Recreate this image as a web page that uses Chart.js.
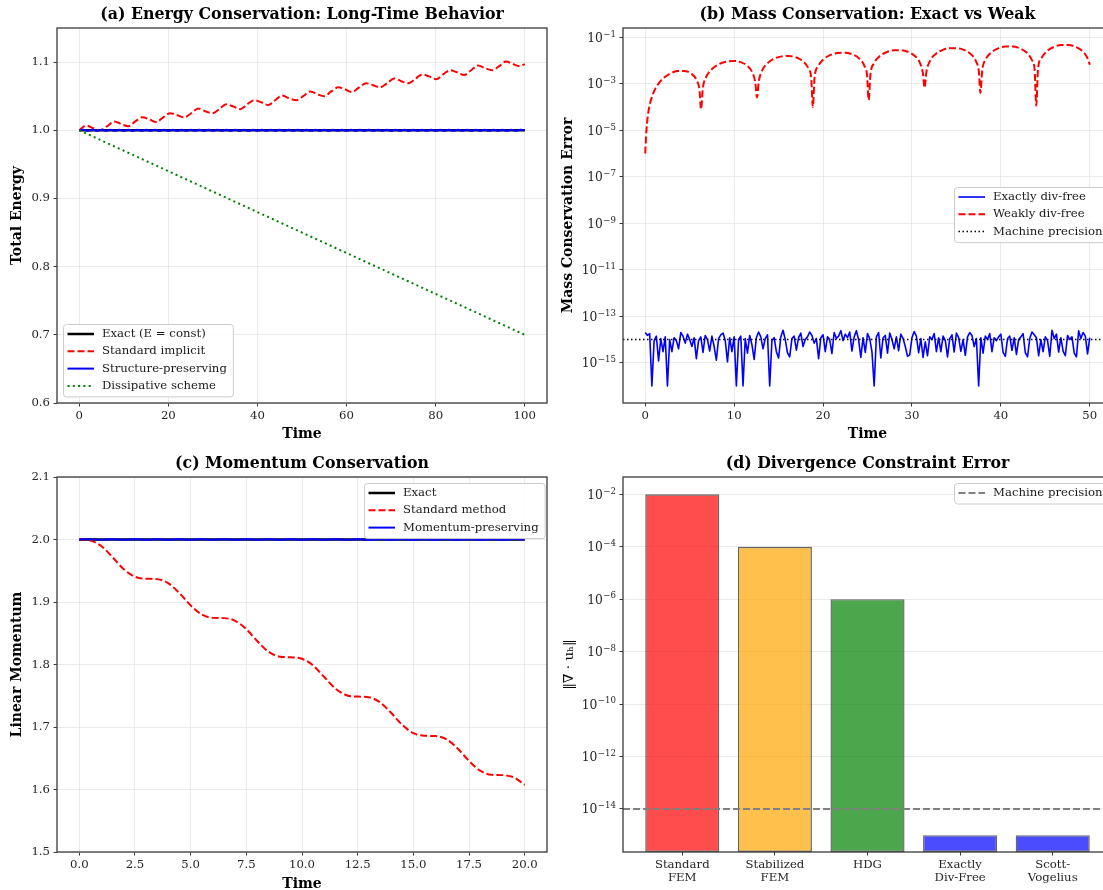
<!DOCTYPE html>
<html>
<head>
<meta charset="utf-8">
<script src="https://cdn.jsdelivr.net/npm/chart.js@4.4.0/dist/chart.umd.min.js"></script>
<style>
  html, body { margin: 0; padding: 0; background: #fff; }
  body { width: 1103px; height: 890px; overflow: hidden; position: relative; }
  .panel { position: absolute; }
  canvas { display: block; }
</style>
</head>
<body>
<div class="panel" style="left:0;top:0"><canvas id="chartA" width="551" height="445"></canvas></div>
<div class="panel" style="left:551px;top:0"><canvas id="chartB" width="565" height="445"></canvas></div>
<div class="panel" style="left:0;top:445px"><canvas id="chartC" width="551" height="450"></canvas></div>
<div class="panel" style="left:551px;top:445px"><canvas id="chartD" width="565" height="450"></canvas></div>
<script>
// ---- (a) energy conservation ----
const exactTimeA = [0, 100];
const exactEnergy = [1.0, 1.0];
const implicitTime = [0, 1.57, 3.14, 4.71, 6.28, 7.85, 9.42, 11.0, 12.57, 14.14, 15.71, 17.28, 18.85, 20.42, 21.99, 23.56,
  25.13, 26.7, 28.27, 29.85, 31.42, 32.99, 34.56, 36.13, 37.7, 39.27, 40.84, 42.41, 43.98, 45.55, 47.12, 48.69,
  50.27, 51.84, 53.41, 54.98, 56.55, 58.12, 59.69, 61.26, 62.83, 64.4, 65.97, 67.54, 69.12, 70.69, 72.26, 73.83,
  75.4, 76.97, 78.54, 80.11, 81.68, 83.25, 84.82, 86.39, 87.96, 89.54, 91.11, 92.68, 94.25, 95.82, 97.39, 98.96, 100];
const implicitEnergy = [1.000, 1.007, 1.003, 1.000, 1.006, 1.013, 1.009, 1.006, 1.013, 1.019, 1.016, 1.012, 1.019, 1.025, 1.022, 1.019,
  1.025, 1.032, 1.028, 1.025, 1.031, 1.038, 1.035, 1.031, 1.038, 1.044, 1.041, 1.037, 1.044, 1.051, 1.047, 1.044,
  1.050, 1.057, 1.053, 1.050, 1.057, 1.063, 1.060, 1.056, 1.063, 1.069, 1.066, 1.063, 1.069, 1.076, 1.072, 1.069,
  1.075, 1.082, 1.079, 1.075, 1.082, 1.088, 1.085, 1.081, 1.088, 1.095, 1.091, 1.088, 1.094, 1.101, 1.097, 1.094, 1.097];
const timeA = [0, 1, 2, 3, 4, 5, 6, 7, 8, 9, 10, 11, 12, 13, 14, 15, 16, 17, 18, 19, 20, 21, 22, 23, 24, 25, 26, 27, 28, 29,
  30, 31, 32, 33, 34, 35, 36, 37, 38, 39, 40, 41, 42, 43, 44, 45, 46, 47, 48, 49, 50, 51, 52, 53, 54, 55, 56, 57, 58, 59,
  60, 61, 62, 63, 64, 65, 66, 67, 68, 69, 70, 71, 72, 73, 74, 75, 76, 77, 78, 79, 80, 81, 82, 83, 84, 85, 86, 87, 88, 89,
  90, 91, 92, 93, 94, 95, 96, 97, 98, 99, 100];
const structEnergy = [1.0,
  1.0007, 0.9993, 1.0007, 0.9993, 1.0007, 0.9993, 1.0007, 0.9993, 1.0007, 0.9993,
  1.0007, 0.9993, 1.0007, 0.9993, 1.0007, 0.9993, 1.0007, 0.9993, 1.0007, 0.9993,
  1.0007, 0.9993, 1.0007, 0.9993, 1.0007, 0.9993, 1.0007, 0.9993, 1.0007, 0.9993,
  1.0007, 0.9993, 1.0007, 0.9993, 1.0007, 0.9993, 1.0007, 0.9993, 1.0007, 0.9993,
  1.0007, 0.9993, 1.0007, 0.9993, 1.0007, 0.9993, 1.0007, 0.9993, 1.0007, 0.9993,
  1.0007, 0.9993, 1.0007, 0.9993, 1.0007, 0.9993, 1.0007, 0.9993, 1.0007, 0.9993,
  1.0007, 0.9993, 1.0007, 0.9993, 1.0007, 0.9993, 1.0007, 0.9993, 1.0007, 0.9993,
  1.0007, 0.9993, 1.0007, 0.9993, 1.0007, 0.9993, 1.0007, 0.9993, 1.0007, 0.9993,
  1.0007, 0.9993, 1.0007, 0.9993, 1.0007, 0.9993, 1.0007, 0.9993, 1.0007, 0.9993,
  1.0007, 0.9993, 1.0007, 0.9993, 1.0007, 0.9993, 1.0007, 0.9993, 1.0007, 1.0];
const dissipTime = [0, 100];
const dissipEnergy = [1.0, 0.7];
const ticksAX = [0, 20, 40, 60, 80, 100];
const ticksAY = [0.6, 0.7, 0.8, 0.9, 1.0, 1.1];

// ---- (b) mass conservation ----
const weakTime = [0, 0.1, 0.2, 0.4, 0.7, 1.0, 1.5, 2.0, 2.8, 3.6, 4.4, 5.2, 5.8, 6.1, 6.28,
  6.48, 6.88, 7.48, 8.28, 9.08, 9.88, 10.68, 11.48, 12.08, 12.38, 12.57,
  12.77, 13.17, 13.77, 14.57, 15.37, 16.17, 16.97, 17.77, 18.37, 18.67, 18.85,
  19.05, 19.45, 20.05, 20.85, 21.65, 22.45, 23.25, 24.05, 24.65, 24.95, 25.13,
  25.33, 25.73, 26.33, 27.13, 27.93, 28.73, 29.53, 30.33, 30.93, 31.23, 31.42,
  31.62, 32.02, 32.62, 33.42, 34.22, 35.02, 35.82, 36.62, 37.22, 37.52, 37.70,
  37.90, 38.30, 38.90, 39.70, 40.50, 41.30, 42.10, 42.90, 43.50, 43.80, 43.98,
  44.18, 44.58, 45.18, 45.98, 46.78, 47.58, 48.38, 49.18, 49.78, 50.0];
const weakError = [1e-6, 6e-6, 2e-5, 7.9e-5, 2.4e-4, 4.8e-4, 1.02e-3, 1.68e-3, 2.76e-3, 3.51e-3, 3.56e-3, 2.68e-3, 1.39e-3, 5.6e-4, 8e-5,
  6.5e-4, 2.03e-3, 4.22e-3, 6.97e-3, 8.95e-3, 9.62e-3, 8.64e-3, 5.92e-3, 2.89e-3, 1.13e-3, 2.6e-4,
  1.27e-3, 3.89e-3, 7.77e-3, 1.23e-2, 1.51e-2, 1.57e-2, 1.37e-2, 9.16e-3, 4.39e-3, 1.71e-3, 1e-4,
  1.9e-3, 5.75e-3, 1.13e-2, 1.75e-2, 2.13e-2, 2.19e-2, 1.88e-2, 1.24e-2, 5.9e-3, 2.28e-3, 2e-4,
  2.53e-3, 7.6e-3, 1.49e-2, 2.28e-2, 2.75e-2, 2.8e-2, 2.39e-2, 1.56e-2, 7.4e-3, 2.86e-3, 6.7e-4,
  3.16e-3, 9.46e-3, 1.84e-2, 2.81e-2, 3.37e-2, 3.41e-2, 2.9e-2, 1.89e-2, 8.9e-3, 3.43e-3, 4e-4,
  3.78e-3, 1.13e-2, 2.2e-2, 3.34e-2, 3.99e-2, 4.02e-2, 3.4e-2, 2.21e-2, 1.04e-2, 4.01e-3, 1.15e-4,
  4.41e-3, 1.32e-2, 2.55e-2, 3.87e-2, 4.61e-2, 4.63e-2, 3.91e-2, 2.54e-2, 1.19e-2, 6.6e-3];
const exactTimeB = [0, 0.25, 0.5, 0.75, 1, 1.25, 1.5, 1.75, 2, 2.25, 2.5, 2.75, 3, 3.25, 3.5, 3.75, 4, 4.25, 4.5, 4.75,
  5, 5.25, 5.5, 5.75, 6, 6.25, 6.5, 6.75, 7, 7.25, 7.5, 7.75, 8, 8.25, 8.5, 8.75, 9, 9.25, 9.5, 9.75,
  10, 10.25, 10.5, 10.75, 11, 11.25, 11.5, 11.75, 12, 12.25, 12.5, 12.75, 13, 13.25, 13.5, 13.75, 14, 14.25, 14.5, 14.75,
  15, 15.25, 15.5, 15.75, 16, 16.25, 16.5, 16.75, 17, 17.25, 17.5, 17.75, 18, 18.25, 18.5, 18.75, 19, 19.25, 19.5, 19.75,
  20, 20.25, 20.5, 20.75, 21, 21.25, 21.5, 21.75, 22, 22.25, 22.5, 22.75, 23, 23.25, 23.5, 23.75, 24, 24.25, 24.5, 24.75,
  25, 25.25, 25.5, 25.75, 26, 26.25, 26.5, 26.75, 27, 27.25, 27.5, 27.75, 28, 28.25, 28.5, 28.75, 29, 29.25, 29.5, 29.75,
  30, 30.25, 30.5, 30.75, 31, 31.25, 31.5, 31.75, 32, 32.25, 32.5, 32.75, 33, 33.25, 33.5, 33.75, 34, 34.25, 34.5, 34.75,
  35, 35.25, 35.5, 35.75, 36, 36.25, 36.5, 36.75, 37, 37.25, 37.5, 37.75, 38, 38.25, 38.5, 38.75, 39, 39.25, 39.5, 39.75,
  40, 40.25, 40.5, 40.75, 41, 41.25, 41.5, 41.75, 42, 42.25, 42.5, 42.75, 43, 43.25, 43.5, 43.75, 44, 44.25, 44.5, 44.75,
  45, 45.25, 45.5, 45.75, 46, 46.25, 46.5, 46.75, 47, 47.25, 47.5, 47.75, 48, 48.25, 48.5, 48.75, 49, 49.25, 49.5, 49.75, 50];
const exactError = [20e-15, 15e-15, 18e-15, 1e-16, 9e-15, 14e-15, 1.2e-15, 11e-15, 3e-15, 13e-15,
  1e-16, 10e-15, 3e-15, 12e-15, 9e-15, 4e-15, 20e-15, 14e-15, 7e-15, 17e-15,
  10e-15, 5e-15, 12e-15, 1.5e-15, 9e-15, 13e-15, 2.8e-15, 15e-15, 10e-15, 3.2e-15,
  14e-15, 5e-15, 1.3e-15, 11e-15, 16e-15, 19e-15, 9e-15, 1.1e-15, 12e-15, 3e-15,
  13e-15, 1e-16, 10e-15, 14e-15, 1e-16, 11e-15, 2.6e-15, 15e-15, 6e-15, 1.4e-15,
  12e-15, 21e-15, 13e-15, 4e-15, 11e-15, 16e-15, 1e-16, 9e-15, 12e-15, 3e-15,
  1.6e-15, 13e-15, 25e-15, 10e-15, 2.7e-15, 1.8e-15, 11e-15, 14e-15, 3.5e-15, 12e-15,
  19e-15, 5e-15, 10e-15, 13e-15, 21e-15, 15e-15, 7e-15, 11e-15, 1.5e-15, 12e-15,
  16e-15, 3e-15, 13e-15, 10e-15, 2.5e-15, 20e-15, 11e-15, 14e-15, 24e-15, 9e-15,
  17e-15, 12e-15, 21e-15, 3.2e-15, 13e-15, 24e-15, 10e-15, 1.7e-15, 12e-15, 2.8e-15,
  18e-15, 11e-15, 3e-15, 1e-16, 13e-15, 20e-15, 1.6e-15, 12e-15, 15e-15, 2.6e-15,
  19e-15, 10e-15, 4e-15, 13e-15, 3.3e-15, 17e-15, 11e-15, 5e-15, 1.9e-15, 2.2e-15,
  12e-15, 22e-15, 14e-15, 2.7e-15, 11e-15, 1.7e-15, 8e-15, 2e-15, 13e-15, 10e-15,
  18e-15, 3e-15, 12e-15, 3e-15, 14e-15, 9e-15, 1.8e-15, 11e-15, 16e-15, 2.9e-15,
  19e-15, 12e-15, 3.1e-15, 10e-15, 2.1e-15, 13e-15, 20e-15, 15e-15, 5e-15, 11e-15,
  1e-16, 12e-15, 2.6e-15, 14e-15, 10e-15, 18e-15, 3e-15, 12e-15, 9e-15, 13e-15,
  17e-15, 2.8e-15, 1.9e-15, 11e-15, 14e-15, 3.4e-15, 12e-15, 2.3e-15, 10e-15, 13e-15,
  18e-15, 2.7e-15, 1.8e-15, 11e-15, 21e-15, 16e-15, 12e-15, 2e-15, 10e-15, 3e-15,
  13e-15, 9e-15, 1.9e-15, 25e-15, 11e-15, 17e-15, 2.9e-15, 12e-15, 3.2e-15, 2e-15,
  15e-15, 10e-15, 13e-15, 2.6e-15, 1.8e-15, 24e-15, 11e-15, 20e-15, 14e-15, 2.4e-15,
  12e-15];
const machineTimeB = [-2.5, 52.5];
const machineErrB = [1e-14, 1e-14];
const ticksBX = [0, 10, 20, 30, 40, 50];
const ticksBY = [1e-1, 1e-3, 1e-5, 1e-7, 1e-9, 1e-11, 1e-13, 1e-15];

// ---- (c) momentum conservation ----
const exactTimeC = [0, 20];
const exactMomentum = [2.0, 2.0];
const timeC = [0, 0.5, 1, 1.5, 2, 2.5, 3, 3.5, 4, 4.5, 5, 5.5, 6, 6.5, 7, 7.5, 8, 8.5, 9, 9.5, 10,
  10.5, 11, 11.5, 12, 12.5, 13, 13.5, 14, 14.5, 15, 15.5, 16, 16.5, 17, 17.5, 18, 18.5, 19, 19.5, 20];
const standardMomentum = [2.0, 1.9984, 1.9891, 1.9714, 1.9524, 1.9404, 1.9372, 1.9366, 1.9299, 1.9141, 1.8946,
  1.8800, 1.8746, 1.8742, 1.8699, 1.8565, 1.8371, 1.8204, 1.8125, 1.8115, 1.8091,
  1.7984, 1.7799, 1.7615, 1.7509, 1.7487, 1.7476, 1.7396, 1.7227, 1.7034, 1.6901,
  1.6860, 1.6855, 1.6800, 1.6653, 1.6457, 1.6301, 1.6236, 1.6230, 1.6196, 1.6075];
const preservingMomentum = [2.0, 2.0004, 1.9996, 2.0004, 1.9996, 2.0004, 1.9996, 2.0004, 1.9996, 2.0004, 1.9996,
  2.0004, 1.9996, 2.0004, 1.9996, 2.0004, 1.9996, 2.0004, 1.9996, 2.0004, 1.9996,
  2.0004, 1.9996, 2.0004, 1.9996, 2.0004, 1.9996, 2.0004, 1.9996, 2.0004, 1.9996,
  2.0004, 1.9996, 2.0004, 1.9996, 2.0004, 1.9996, 2.0004, 1.9996, 2.0004, 2.0];
const ticksCX = [0, 2.5, 5, 7.5, 10, 12.5, 15, 17.5, 20];
const ticksCY = [1.5, 1.6, 1.7, 1.8, 1.9, 2.0, 2.1];

// ---- (d) divergence constraint ----
const methods = [['Standard', 'FEM'], ['Stabilized', 'FEM'], ['HDG'], ['Exactly', 'Div-Free'], ['Scott-', 'Vogelius']];
const methodPos = [0, 1, 2, 3, 4];
const divError = [1e-2, 1e-4, 1e-6, 1e-15, 1e-15];
const machinePosD = [-0.64, 4.64];
const machineErrD = [1e-14, 1e-14];
const ticksDY = [1e-2, 1e-4, 1e-6, 1e-8, 1e-10, 1e-12, 1e-14];

// ---- styling ----
const SERIF = "'DejaVu Serif', 'Liberation Serif', serif";
const GRID = '#e6e6e6';
const SPINE = '#3a3a3a';
const TICK = '#262626';
const TICK_SIZE = 11.7;
Chart.defaults.font.family = SERIF;

const pts = (xs, ys) => xs.map((x, i) => ({x, y: ys[i]}));

function axis(o) {
  const left = o.position === 'left';
  return {
    type: o.type || 'linear',
    position: o.position,
    min: o.min, max: o.max,
    bounds: 'data',
    offset: false,
    afterBuildTicks: s => { s.ticks = o.ticks.map(v => ({value: v})); },
    afterFit: s => { if (left) s.width = o.size; else s.height = o.size; },
    grid: { display: true, offset: false, drawOnChartArea: o.grid !== false, color: GRID, lineWidth: 0.8,
            tickColor: SPINE, tickLength: 3.5, tickWidth: 1 },
    border: { display: false },
    ticks: { display: o.showLabels !== false, autoSkip: false, maxRotation: 0, padding: 3.5, color: TICK,
             font: { family: SERIF, size: TICK_SIZE, lineHeight: 1.1 }, callback: o.fmt },
    title: o.title ? {
      display: true, text: o.title, color: '#000',
      font: { family: SERIF, size: o.titleSize || 14, weight: o.weight || 'bold' },
      padding: left ? { top: o.tpad, bottom: 0 } : { top: 0, bottom: o.tpad }
    } : { display: false }
  };
}

function line(label, xs, ys, color, width, dash, order, extra) {
  return Object.assign({
    type: 'line', label, data: pts(xs, ys), borderColor: color, backgroundColor: color,
    borderWidth: width, borderDash: dash, pointRadius: 0, pointHitRadius: 0, fill: false,
    borderCapStyle: 'butt', borderJoinStyle: 'round', order, tension: 0
  }, extra || {});
}

// panel title centred over the axes
const panelTitle = {
  id: 'panelTitle',
  afterDraw(chart, args, o) {
    if (!o.text) return;
    const {ctx, chartArea} = chart;
    ctx.save();
    ctx.font = 'bold 15.8px ' + SERIF;
    ctx.fillStyle = '#000';
    ctx.textAlign = 'center';
    ctx.textBaseline = 'middle';
    ctx.fillText(o.text, (chartArea.left + chartArea.right) / 2, o.y);
    ctx.restore();
  }
};

// four spines
const frame = {
  id: 'frame',
  afterDatasetsDraw(chart) {
    const {ctx, chartArea: a} = chart;
    ctx.save();
    ctx.strokeStyle = SPINE;
    ctx.lineWidth = 1.3;
    ctx.strokeRect(a.left, a.top, a.right - a.left, a.bottom - a.top);
    ctx.restore();
  }
};

// 10^n labels for the log axes, placed at the scale's own tick pixels
const powTicks = {
  id: 'powTicks',
  afterDraw(chart, args, o) {
    if (!o.axis) return;
    const s = chart.scales[o.axis];
    const ctx = chart.ctx;
    const big = TICK_SIZE + 0.6, small = (TICK_SIZE + 0.6) * 0.7;
    ctx.save();
    ctx.fillStyle = TICK;
    ctx.textAlign = 'left';
    ctx.textBaseline = 'alphabetic';
    s.ticks.forEach(t => {
      const y = s.getPixelForValue(t.value);
      const exp = String(Math.round(Math.log10(t.value))).replace('-', '\u2212');
      ctx.font = small + 'px ' + SERIF;
      const ew = ctx.measureText(exp).width;
      ctx.font = big + 'px ' + SERIF;
      const bw = ctx.measureText('10').width;
      const right = chart.chartArea.left - 7;
      const base = y + big * 0.36;
      ctx.fillText('10', right - ew - bw - 0.5, base);
      ctx.font = small + 'px ' + SERIF;
      ctx.fillText(exp, right - ew, base - big * 0.42);
    });
    ctx.restore();
  }
};

// matplotlib-like framed legend inside the axes
const boxLegend = {
  id: 'boxLegend',
  afterDraw(chart, args, o) {
    if (!o.items) return;
    const ctx = chart.ctx;
    const rows = o.items.map(i => chart.data.datasets[i]);
    ctx.save();
    ctx.font = TICK_SIZE + 'px ' + SERIF;
    const textW = Math.max(...rows.map(d => ctx.measureText(d.label).width));
    const rowH = 17.3;
    const w = 39 + textW + 6;
    const h = 10 + (rows.length - 1) * rowH + 10.5;
    ctx.beginPath();
    if (ctx.roundRect) ctx.roundRect(o.x + 0.5, o.y + 0.5, w, h, 3);
    else ctx.rect(o.x + 0.5, o.y + 0.5, w, h);
    ctx.fillStyle = 'rgba(255,255,255,0.85)';
    ctx.fill();
    ctx.strokeStyle = '#cccccc';
    ctx.lineWidth = 1;
    ctx.stroke();
    rows.forEach((d, k) => {
      const y = o.y + 10 + k * rowH;
      ctx.beginPath();
      ctx.setLineDash(d.borderDash || []);
      ctx.strokeStyle = d.borderColor;
      ctx.lineWidth = d.borderWidth;
      ctx.moveTo(o.x + 4.5, y);
      ctx.lineTo(o.x + 31, y);
      ctx.stroke();
      ctx.setLineDash([]);
      ctx.fillStyle = '#1a1a1a';
      ctx.textAlign = 'left';
      ctx.textBaseline = 'middle';
      ctx.fillText(d.label, o.x + 39, y);
    });
    ctx.restore();
  }
};

Chart.register(panelTitle, frame, powTicks, boxLegend);

function baseOptions(title, titleY, legend, top, scales, pow) {
  return {
    responsive: false,
    animation: false,
    events: [],
    layout: { padding: { top, right: 4, left: 0, bottom: 0 } },
    plugins: {
      legend: { display: false },
      tooltip: { enabled: false },
      panelTitle: { text: title, y: titleY },
      powTicks: pow || {},
      boxLegend: legend
    },
    scales
  };
}

const fix1 = v => Number(v).toFixed(1);

// (a)
new Chart(document.getElementById('chartA'), {
  type: 'line',
  data: { datasets: [
    line('Exact (E = const)', exactTimeA, exactEnergy, '#000000', 2.5, [], 3),
    line('Standard implicit', implicitTime, implicitEnergy, '#ff0000', 2, [7, 3], 2, { cubicInterpolationMode: 'monotone' }),
    line('Structure-preserving', timeA, structEnergy, '#0000ff', 2, [], 1, { tension: 0.4 }),
    line('Dissipative scheme', dissipTime, dissipEnergy, '#008000', 2, [2, 3.3], 0)
  ]},
  options: baseOptions('(a) Energy Conservation: Long-Time Behavior', 14.5,
    { items: [0, 1, 2, 3], x: 63, y: 324 }, 28, {
      x: axis({ position: 'bottom', min: -5, max: 105, ticks: ticksAX, fmt: v => String(v), size: 42, title: 'Time', tpad: 2.6 }),
      y: axis({ position: 'left', min: 0.6, max: 1.15, ticks: ticksAY, fmt: fix1, size: 57, title: 'Total Energy', tpad: 9.2 })
    })
});

// (b)
new Chart(document.getElementById('chartB'), {
  type: 'line',
  data: { datasets: [
    line('Exactly div-free', exactTimeB, exactError, '#0000ff', 1.6, [], 2),
    line('Weakly div-free', weakTime, weakError, '#ff0000', 2, [7, 3], 1, { cubicInterpolationMode: 'monotone' }),
    line('Machine precision', machineTimeB, machineErrB, '#000000', 1.5, [1.5, 2.5], 0)
  ]},
  options: baseOptions('(b) Mass Conservation: Exact vs Weak', 14.5,
    { items: [0, 1, 2], x: 403, y: 187 }, 28, {
      x: axis({ position: 'bottom', min: -2.5, max: 52.5, ticks: ticksBX, fmt: v => String(v), size: 42, title: 'Time', tpad: 2.6 }),
      y: axis({ type: 'logarithmic', position: 'left', min: Math.pow(10, -16.73), max: Math.pow(10, -0.6), ticks: ticksBY,
                showLabels: false, size: 72, title: 'Mass Conservation Error', tpad: 8.8 })
    }, { axis: 'y' })
});

// (c)
new Chart(document.getElementById('chartC'), {
  type: 'line',
  data: { datasets: [
    line('Exact', exactTimeC, exactMomentum, '#000000', 2.5, [], 2),
    line('Standard method', timeC, standardMomentum, '#ff0000', 2, [7, 3], 1, { cubicInterpolationMode: 'monotone' }),
    line('Momentum-preserving', timeC, preservingMomentum, '#0000ff', 2, [], 0, { tension: 0.4 })
  ]},
  options: baseOptions('(c) Momentum Conservation', 19,
    { items: [0, 1, 2], x: 364, y: 38 }, 32, {
      x: axis({ position: 'bottom', min: -1, max: 21, ticks: ticksCX, fmt: fix1, size: 43, title: 'Time', tpad: 2.6 }),
      y: axis({ position: 'left', min: 1.5, max: 2.1, ticks: ticksCY, fmt: fix1, size: 57, title: 'Linear Momentum', tpad: 8.8 })
    })
});

// (d)
new Chart(document.getElementById('chartD'), {
  type: 'bar',
  data: { datasets: [
    { type: 'bar', label: 'Divergence error', data: pts(methodPos, divError),
      backgroundColor: ['rgba(255,0,0,0.7)', 'rgba(255,165,0,0.7)', 'rgba(0,128,0,0.7)', 'rgba(0,0,255,0.7)', 'rgba(0,0,255,0.7)'],
      borderColor: 'rgba(0,0,0,0.6)', borderWidth: 1.4, borderSkipped: false,
      barPercentage: 0.8, categoryPercentage: 1.0, order: 1 },
    line('Machine precision', machinePosD, machineErrD, '#808080', 2, [7, 3], 0)
  ]},
  options: baseOptions('(d) Divergence Constraint Error', 19,
    { items: [1], x: 403, y: 38 }, 32, {
      x: axis({ position: 'bottom', min: -0.64, max: 4.64, ticks: methodPos, fmt: v => methods[v] || '', size: 43, grid: false }),
      y: axis({ type: 'logarithmic', position: 'left', min: Math.pow(10, -15.64), max: Math.pow(10, -1.34), ticks: ticksDY,
                showLabels: false, size: 72,
                title: '\u2016\u2207 \u00B7 u\u2095\u2016', weight: 'normal', titleSize: 13.5, tpad: 10.5 })
    }, { axis: 'y' })
});
</script>
</body>
</html>
